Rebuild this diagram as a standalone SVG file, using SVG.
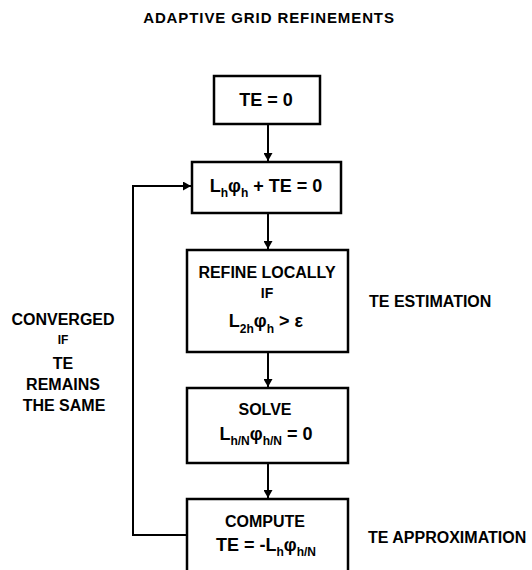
<svg xmlns="http://www.w3.org/2000/svg" width="532" height="570" viewBox="0 0 532 570">
<style>
  .box { fill: #fff; stroke: #000; stroke-width: 2.5; }
  .conn { fill: none; stroke: #000; stroke-width: 2; }
  text { font-family: "Liberation Sans", Arial, sans-serif; font-weight: bold; fill: #000; }
  .lbl { font-size: 16px; text-anchor: middle; }
  .eq { font-size: 18px; text-anchor: middle; }
  .sub { font-size: 12px; }
</style>
<defs>
  <marker id="arr" markerWidth="8" markerHeight="9" refX="8" refY="4.5" orient="auto" markerUnits="userSpaceOnUse">
    <path d="M0,0 L8,4.5 L0,9 Z" fill="#000"/>
  </marker>
</defs>
<rect width="532" height="570" fill="#fff"/>
<text id="title" x="269" y="22.5" style="font-size:15px;letter-spacing:0.9px" text-anchor="middle">ADAPTIVE GRID REFINEMENTS</text>

<g id="connectors">
  <line class="conn" x1="268" y1="124" x2="268" y2="161" marker-end="url(#arr)"/>
  <line class="conn" x1="268" y1="213" x2="268" y2="249" marker-end="url(#arr)"/>
  <line class="conn" x1="268" y1="352" x2="268" y2="387" marker-end="url(#arr)"/>
  <line class="conn" x1="268" y1="463" x2="268" y2="498" marker-end="url(#arr)"/>
  <polyline class="conn" points="187,535 133,535 133,186 191,186" marker-end="url(#arr)"/>
</g>

<g id="te0">
  <rect class="box" x="214" y="76" width="106" height="48"/>
  <text class="eq" x="266" y="106">TE = 0</text>
</g>

<g id="equation">
  <rect class="box" x="192" y="162" width="149" height="51"/>
  <text class="eq" x="266" y="192">L<tspan class="sub" dy="5">h</tspan><tspan dy="-5">φ</tspan><tspan class="sub" dy="5">h</tspan><tspan dy="-5"> + TE = 0</tspan></text>
</g>

<g id="refine">
  <rect class="box" x="187" y="250" width="161" height="102"/>
  <text class="lbl" x="267" y="278">REFINE LOCALLY</text>
  <text class="lbl" x="267" y="298" style="font-size:14px">IF</text>
  <text class="eq" x="266" y="327">L<tspan class="sub" dy="6">2h</tspan><tspan dy="-6">φ</tspan><tspan class="sub" dy="6">h</tspan><tspan dy="-6"> &gt; ε</tspan></text>
</g>

<g id="solve">
  <rect class="box" x="187" y="388" width="161" height="75"/>
  <text class="lbl" x="265" y="415">SOLVE</text>
  <text class="eq" x="266" y="440">L<tspan class="sub" dy="5">h/N</tspan><tspan dy="-5">φ</tspan><tspan class="sub" dy="5">h/N</tspan><tspan dy="-5"> = 0</tspan></text>
</g>

<g id="compute">
  <rect class="box" x="187" y="499" width="161" height="80"/>
  <text class="lbl" x="265" y="527">COMPUTE</text>
  <text class="eq" x="266" y="551">TE = -L<tspan class="sub" dy="5">h</tspan><tspan dy="-5">φ</tspan><tspan class="sub" dy="5">h/N</tspan></text>
</g>

<g id="converged-label">
  <text class="lbl" x="63" y="324.5">CONVERGED</text>
  <text class="lbl" x="63" y="343.5" style="font-size:12px">IF</text>
  <text class="lbl" x="63" y="369">TE</text>
  <text class="lbl" x="63" y="390">REMAINS</text>
  <text class="lbl" x="64" y="411">THE SAME</text>
</g>

<g id="side-labels">
  <text x="369" y="307" style="font-size:16px">TE ESTIMATION</text>
  <text x="368" y="543" style="font-size:16px">TE APPROXIMATION</text>
</g>
</svg>
